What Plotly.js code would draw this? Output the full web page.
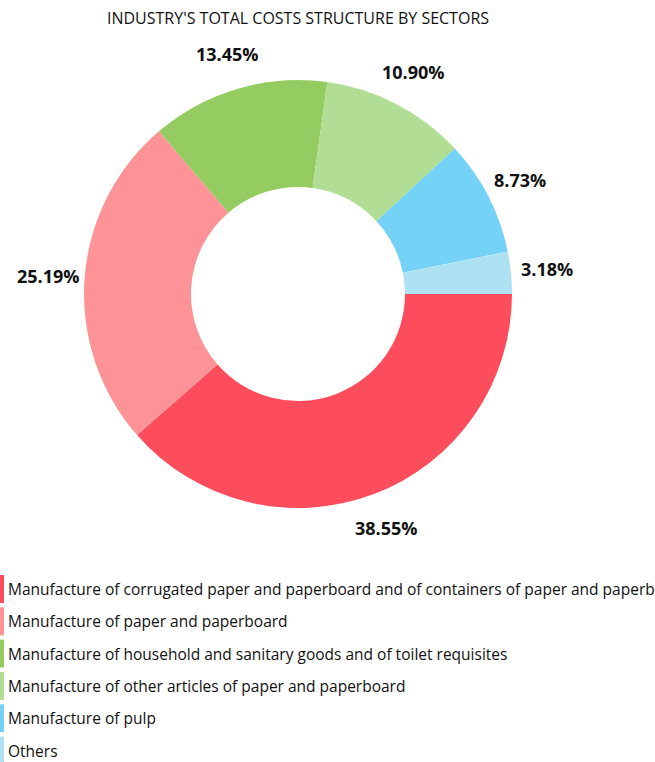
<!DOCTYPE html>
<html>
<head>
<meta charset="utf-8">
<script src="https://cdn.plot.ly/plotly-3.0.1.min.js"></script>
<style>html,body{margin:0;padding:0;background:#fff;}#chart{width:655px;height:762px;}</style>
</head>
<body>
<div id="chart"></div>
<script>
var labels = [
  "Manufacture of corrugated paper and paperboard and of containers of paper and paperboard",
  "Manufacture of paper and paperboard",
  "Manufacture of household and sanitary goods and of toilet requisites",
  "Manufacture of other articles of paper and paperboard",
  "Manufacture of pulp",
  "Others"
];
var values = [38.55, 25.19, 13.45, 10.90, 8.73, 3.18];
var colors = ["#fd4d5c", "#fd9396", "#94cc62", "#b1de94", "#74d2f6", "#aee2f3"];
var titleText = "INDUSTRY'S TOTAL COSTS STRUCTURE BY SECTORS";

var W = 655, H = 762;
var FONT = "'Open Sans', sans-serif";

// pie geometry (pixels)
var CX = 298, CY = 294, R = 214, LABEL_R = 250;

var trace = {
  type: "pie",
  labels: labels,
  values: values,
  hole: 0.5,
  sort: false,
  direction: "clockwise",
  rotation: 90,
  marker: {colors: colors, line: {width: 0}},
  textinfo: "none",
  domain: {x: [(CX - R) / W, (CX + R) / W], y: [(H - CY - R) / H, (H - CY + R) / H]},
  showlegend: false,
  hoverinfo: "label+percent"
};

var shapes = [], annotations = [];

// percentage labels placed around the ring, derived from the values
var total = values.reduce(function(a, b){ return a + b; }, 0);
var cum = 0;
values.forEach(function(v) {
  var mid = (cum + v / 2) / total * 2 * Math.PI; // clockwise from 3 o'clock
  cum += v;
  var px = CX + LABEL_R * Math.cos(mid);
  var py = CY + LABEL_R * Math.sin(mid);
  annotations.push({
    xref: "paper", yref: "paper", x: px / W, y: 1 - py / H,
    xanchor: "center", yanchor: "middle", showarrow: false,
    text: "<b>" + v.toFixed(2) + "%</b>",
    font: {family: FONT, size: 18, color: "#111"}
  });
});

var rowTop = 589, pitch = 32.3;
labels.forEach(function(lab, i) {
  var cy = rowTop + i * pitch;
  shapes.push({
    type: "rect", xref: "paper", yref: "paper",
    x0: 0, x1: 4 / W,
    y0: 1 - (cy + 14) / H, y1: 1 - (cy - 14) / H,
    fillcolor: colors[i], line: {width: 0}
  });
  annotations.push({
    xref: "paper", yref: "paper", x: 7 / W, y: 1 - cy / H,
    xanchor: "left", yanchor: "middle", showarrow: false, borderpad: 0,
    text: lab, font: {family: FONT, size: 15.5, color: "#111"}
  });
});

var layout = {
  width: W, height: H,
  margin: {l: 0, r: 0, t: 0, b: 0},
  paper_bgcolor: "#fff",
  title: {text: titleText, x: CX / W, xanchor: "center", y: 1 - 18 / H, yanchor: "middle",
          font: {family: FONT, size: 16, color: "#111"}},
  shapes: shapes,
  annotations: annotations,
  showlegend: false
};

Plotly.newPlot("chart", [trace], layout, {displayModeBar: false, staticPlot: true});
</script>
</body>
</html>
